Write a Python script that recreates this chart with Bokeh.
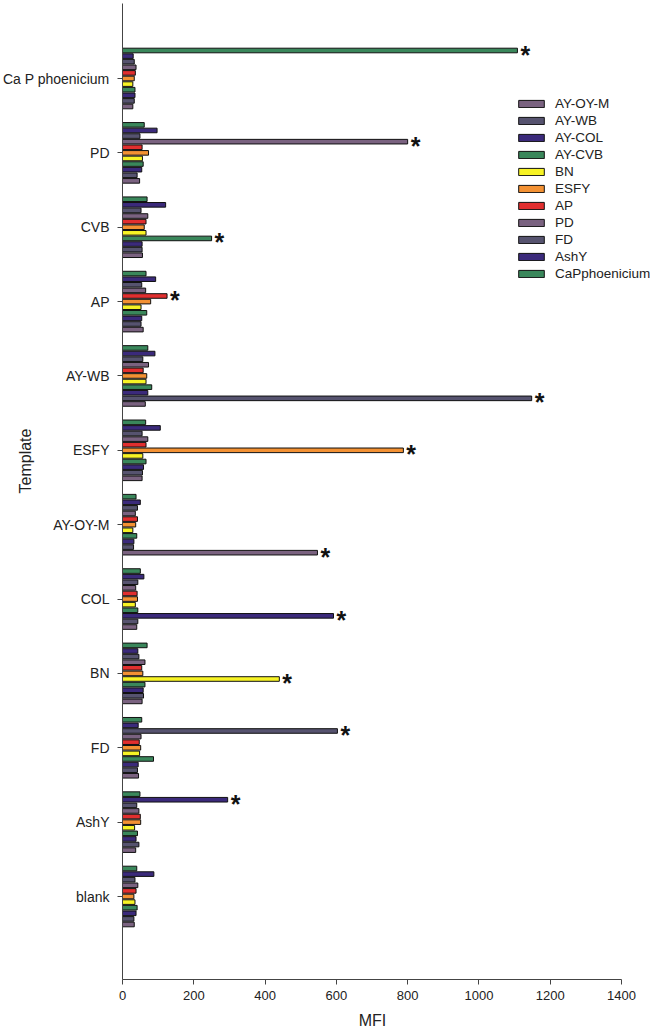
import math
from bokeh.plotting import figure
from bokeh.models import ColumnDataSource, Range1d, FixedTicker, Legend, LegendItem, Label
from bokeh.core.properties import value
from bokeh.embed import file_html
from bokeh.resources import INLINE

# ---------------- data ----------------
templates = ["Ca P phoenicium", "PD", "CVB", "AP", "AY-WB", "ESFY",
             "AY-OY-M", "COL", "BN", "FD", "AshY", "blank"]
probes = ["AY-OY-M", "AY-WB", "AY-COL", "AY-CVB", "BN", "ESFY",
          "AP", "PD", "FD", "AshY", "CaPphoenicium"]

ay_oy_m = [29, 48, 56, 58, 64, 55, 547, 40, 55, 45, 37, 33]
ay_wb = [33, 41, 55, 52, 1148, 56, 31, 43, 59, 42, 46, 32]
ay_col = [35, 54, 55, 54, 71, 59, 32, 592, 58, 44, 38, 38]
ay_cvb = [35, 58, 250, 68, 82, 66, 40, 43, 63, 87, 42, 41]
bn = [29, 56, 66, 52, 66, 57, 29, 36, 440, 48, 34, 35]
esfy = [33, 73, 61, 79, 68, 788, 37, 42, 57, 51, 51, 32]
ap = [36, 55, 66, 125, 58, 66, 42, 41, 54, 47, 50, 38]
pd_ = [38, 800, 71, 65, 73, 71, 36, 37, 63, 52, 46, 43]
fd = [33, 49, 52, 54, 57, 55, 42, 43, 46, 603, 40, 35]
ashy = [30, 97, 121, 93, 91, 106, 50, 60, 43, 44, 295, 88]
capphoen = [1108, 61, 69, 66, 71, 65, 38, 50, 69, 54, 49, 40]

series = [ay_oy_m, ay_wb, ay_col, ay_cvb, bn, esfy, ap, pd_, fd, ashy, capphoen]
# templates with a significant (starred) signal
starred = ["Ca P phoenicium", "PD", "CVB", "AP", "AY-WB", "ESFY",
           "AY-OY-M", "COL", "BN", "FD", "AshY"]

x_ticks = [0, 200, 400, 600, 800, 1000, 1200, 1400]
x_min, x_max = 0, 1400

# ---------------- style / layout ----------------
MAUVE = "#7A6280"
SLATE = "#56536F"
INDIGO = "#3B2A7B"
GREEN = "#3A875B"
palette = [MAUVE, SLATE, INDIGO, GREEN, "#F7F325", "#F39133", "#E12F2F",
           MAUVE, SLATE, INDIGO, GREEN]
FONT = "Liberation Sans"
TEXT = "#222222"
AXIS = "#444444"

W, H = 657, 1030
AX_X0 = 122          # screen x of value 0
AX_X1 = 621          # screen x of value 1400
AX_YB = 979          # screen y of the x axis line
CAT_TOP, CAT_BOT = 78, 896   # screen y of first / last category
ppx = (AX_X1 - AX_X0) / (x_max - x_min)
n_t = len(templates)
ppy = (CAT_BOT - CAT_TOP) / (n_t - 1)

y_axis_val = -(AX_YB - CAT_BOT) / ppy
y_lo = y_axis_val - (H - AX_YB) / ppy
y_hi = y_axis_val + AX_YB / ppy
x_lo = -AX_X0 / ppx
x_hi = x_max + (W - AX_X1) / ppx

base_y = [n_t - 1 - i for i in range(n_t)]
step = 5.6 / ppy
bar_h = 4.6 / ppy

p = figure(width=W, height=H, output_backend="svg", toolbar_location=None,
           x_range=Range1d(x_lo, x_hi), y_range=Range1d(y_lo, y_hi),
           min_border=0, min_border_left=0, min_border_right=0,
           min_border_top=0, min_border_bottom=0)
p.outline_line_color = None
p.xgrid.visible = False
p.ygrid.visible = False
p.background_fill_color = "white"
p.border_fill_color = "white"

items = []
for k, (name, vals) in enumerate(zip(probes, series)):
    ys = [b + (k - 5) * step for b in base_y]
    src = ColumnDataSource(dict(y=ys, right=vals))
    r = p.hbar(y="y", right="right", left=0, height=bar_h, source=src,
               fill_color=palette[k], line_color="#111111", line_width=1)
    items.append(LegendItem(label=name, renderers=[r]))

# asterisks at the maximal bar of each starred template
sx, sy = [], []
for i, t in enumerate(templates):
    if t in starred:
        vals = [s[i] for s in series]
        kmax = max(range(len(vals)), key=lambda j: vals[j])
        sx.append(vals[kmax])
        sy.append(base_y[i] + (kmax - 5) * step)
p.text(x=sx, y=sy, text=["*"] * len(sx), x_offset=3, y_offset=4,
       text_font=value(FONT), text_font_size="25px", text_font_style="bold",
       text_color="#111111", text_align="left", text_baseline="middle")

legend = Legend(items=items, location=(515, H - 95 - 11 * 17), padding=0, margin=0,
                border_line_color=None, background_fill_alpha=0,
                glyph_width=32, glyph_height=9, label_height=17, spacing=0,
                label_standoff=8, label_text_font=FONT,
                label_text_font_size="13.5px", label_text_color=TEXT)
p.add_layout(legend)

# axes (placed inside the canvas at fixed data locations)
xa = p.xaxis[0]
xa.fixed_location = y_axis_val
xa.bounds = (x_min, x_max)
xa.ticker = FixedTicker(ticks=x_ticks)
xa.minor_tick_line_color = None
xa.major_tick_in = 0
xa.major_tick_out = 5
xa.axis_line_color = AXIS
xa.major_tick_line_color = AXIS
xa.major_label_text_font = FONT
xa.major_label_text_font_size = "13px"
xa.major_label_text_color = TEXT
xa.major_label_standoff = 6

ya = p.yaxis[0]
ya.fixed_location = 0
ya.bounds = (y_axis_val, y_axis_val + (AX_YB - 3) / ppy)
ya.ticker = FixedTicker(ticks=base_y)
ya.major_label_overrides = {b: t for b, t in zip(base_y, templates)}
ya.minor_tick_line_color = None
ya.major_tick_in = 0
ya.major_tick_out = 5
ya.axis_line_color = AXIS
ya.major_tick_line_color = AXIS
ya.major_label_text_font = FONT
ya.major_label_text_font_size = "14px"
ya.major_label_text_color = TEXT
ya.major_label_standoff = 8

# axis titles
p.add_layout(Label(x=(372 - AX_X0) / ppx, y=y_axis_val - (1020 - AX_YB) / ppy,
                   text="MFI", text_font=FONT, text_font_size="16px",
                   text_color=TEXT, text_align="center", text_baseline="middle"))
p.add_layout(Label(x=(25 - AX_X0) / ppx, y=y_axis_val + (AX_YB - 460.5) / ppy,
                   text="Template", angle=math.pi / 2, text_font=FONT,
                   text_font_size="16px", text_color=TEXT, text_align="center",
                   text_baseline="middle"))

open("out.html", "w").write(file_html(p, INLINE))
